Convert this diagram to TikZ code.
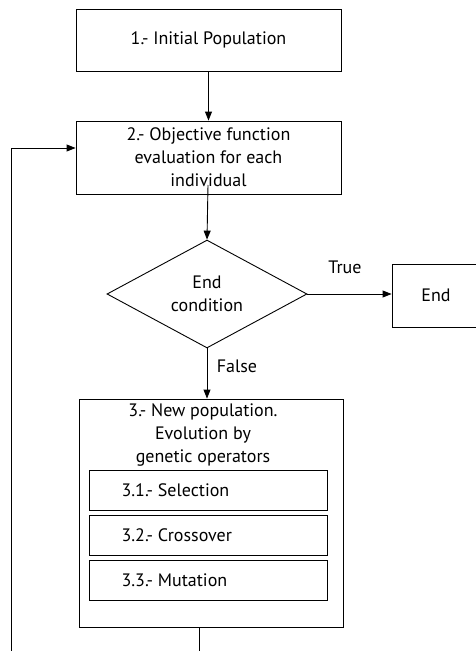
\documentclass[tikz,border=0pt]{standalone}
\usepackage{fontspec}
\setmainfont{PT Sans}
\usetikzlibrary{shapes.geometric,arrows.meta}
\begin{document}
\begin{tikzpicture}[x=1pt,y=-1pt,
  every node/.style={font=\fontsize{18}{23}\selectfont},
  stepbox/.style={draw,line width=0.9pt,inner sep=0pt,align=center},
  subbox/.style={draw,line width=0.9pt,inner sep=0pt,minimum width=238pt,minimum height=40pt},
  decision/.style={draw,diamond,line width=0.9pt,inner sep=0pt,align=center,minimum width=200pt,minimum height=104pt},
  link/.style={line width=0.9pt},
  arrow/.style={link,-{Triangle[length=9pt,width=7pt]}}]
\useasboundingbox (0,0) rectangle (476,651);
% main steps
\node[stepbox,minimum width=265pt,minimum height=62pt] (init) at (208.5,40) {1.- Initial Population};
\node[stepbox,minimum width=265pt,minimum height=73pt] (eval) at (208.5,157.5) {2.- Objective function\\evaluation for each\\individual};
\node[decision] (cond) at (207,294) {End\\condition};
\node[stepbox,minimum width=88pt,minimum height=63pt] (stop) at (436,295.5) {End};
\node[stepbox,minimum width=264pt,minimum height=228pt] (newpop) at (211,513) {};
\node[align=center,anchor=north] (title) at (203,400) {3.- New population.\\Evolution by\\genetic operators};
% genetic operators
\node[subbox] (sel) at (208,490) {};
\node[subbox] (cross) at (208,535) {};
\node[subbox] (mut) at (208,580) {};
\node[anchor=west] (selt) at (118,490) {3.1.- Selection};
\node[anchor=west] (crosst) at (118,535) {3.2.- Crossover};
\node[anchor=west] (mutt) at (118,580) {3.3.- Mutation};
% branch labels
\node (truelbl) at (345,267) {True};
\node (falselbl) at (237,366) {False};
% connectors
\coordinate (evalout) at (208,185);
\coordinate (loopa) at (199,670);
\coordinate (loopb) at (11,670);
\coordinate (loopc) at (11,148);
\draw[arrow] (init.south) -- (eval.north);
\draw[arrow] (evalout) -- (cond.north);
\draw[arrow] (cond.east) -- (cond.east -| stop.west);
\draw[arrow] (cond.south) -- (cond.south |- newpop.north);
\draw[arrow] (newpop.south -| loopa) -- (loopa) -- (loopb) -- (loopc) -- (loopc -| eval.west);
\end{tikzpicture}
\end{document}
